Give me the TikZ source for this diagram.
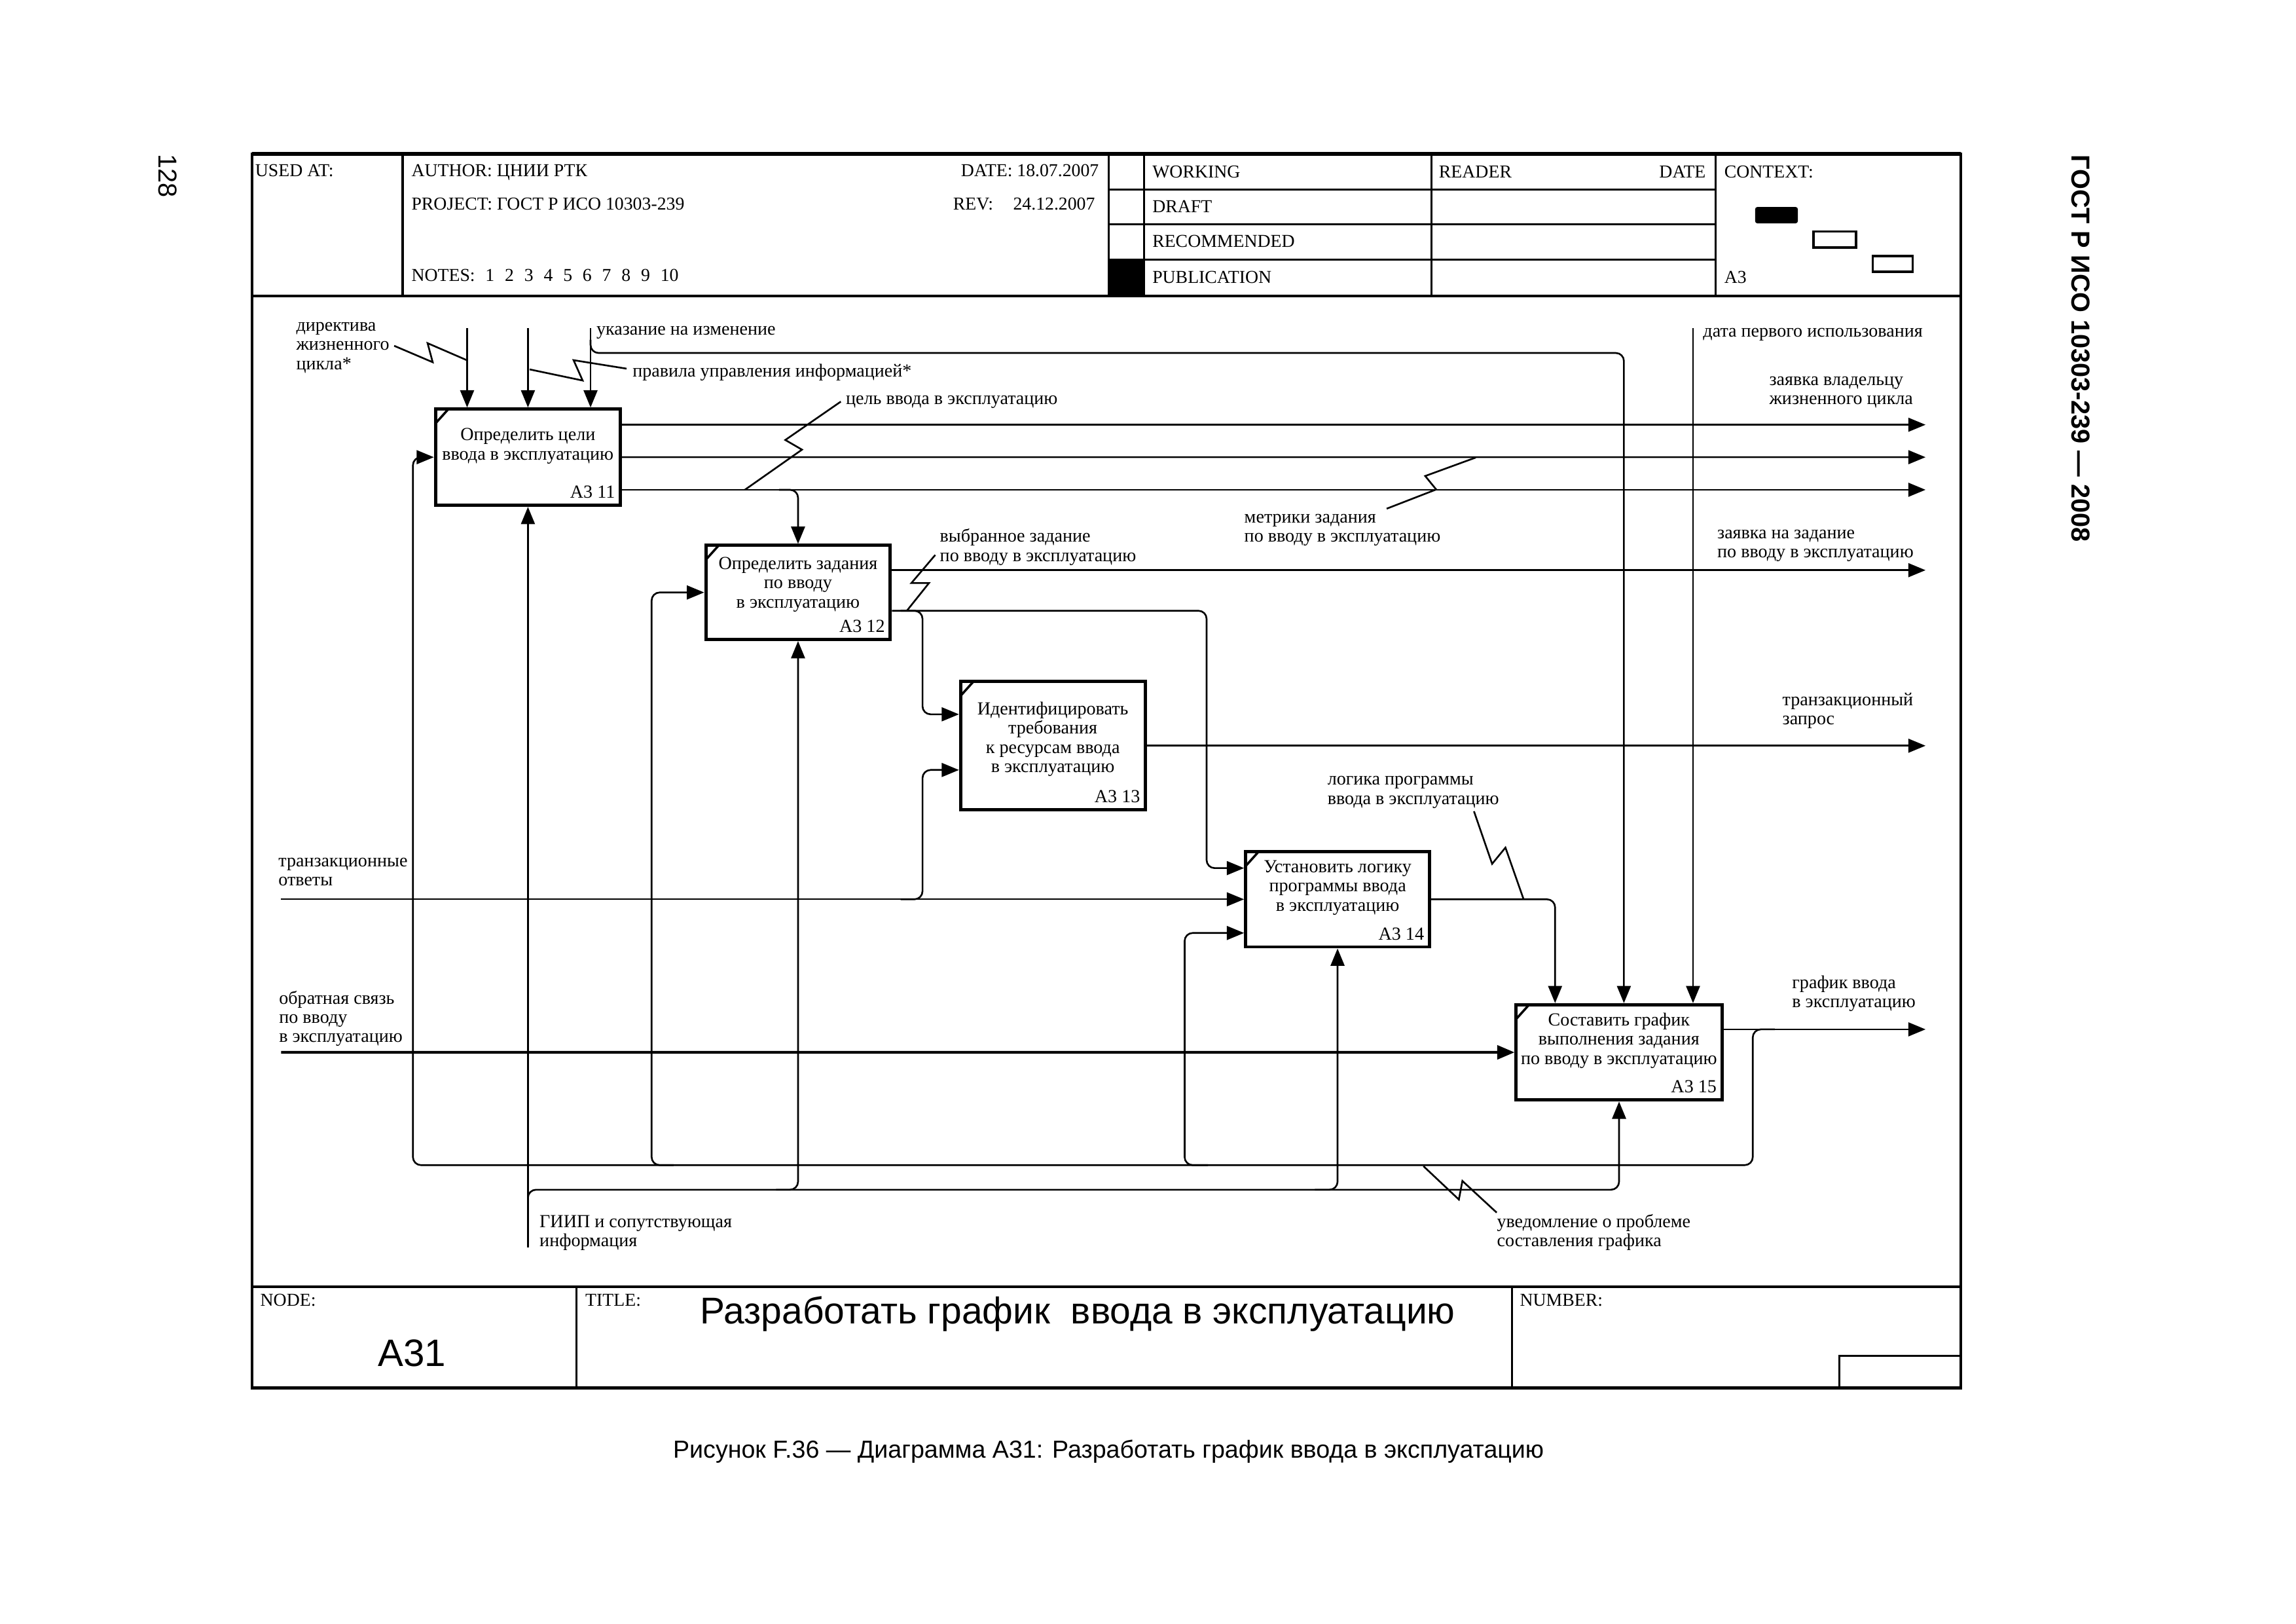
\documentclass[tikz,border=0pt]{standalone}
\usepackage{fontspec}
\setmainfont{Liberation Serif}
\newfontfamily\sansf{Liberation Sans}
\usetikzlibrary{arrows.meta,fit}
\newcommand\lb[1]{\begin{tabular}[t]{@{}l@{}}#1\end{tabular}}
\newcommand\cb[1]{\begin{tabular}[t]{@{}c@{}}#1\end{tabular}}
\newcommand\lblfont{\fontsize{8}{8.35}\selectfont}
\newcommand\hdrfont{\fontsize{7.9}{9}\selectfont}
\begin{document}
\begin{tikzpicture}[x=0.022366cm, y=-0.022366cm,
  box/.style={draw, line width=1.4pt, inner sep=0pt},
  arr/.style={line width=0.75pt, rounded corners=3.5pt, -{Triangle[length=7.5pt,width=6pt]}},
  sq/.style={line width=0.75pt, line join=miter},
  hl/.style={line width=0.9pt},
  lab/.style={inner sep=0pt, anchor=base west, font=\lblfont},
  btxt/.style={inner sep=0pt, anchor=base, font=\lblfont},
  num/.style={inner sep=0pt, anchor=base east, font=\lblfont},
  hdr/.style={inner sep=0pt, anchor=base west, font=\hdrfont},
  cornermark/.style={line width=1pt}]
\fill[white] (0,0) rectangle (1568,1108.4);
\useasboundingbox (0,0) rectangle (1568,1108.4);

% ---------- frame ----------
\draw[line width=1.2pt] (172,105) rectangle (1339,947.6);
\draw[line width=1.8pt] (172,105) -- (1339,105);
\draw[line width=1pt] (172,202) -- (1339,202);
\draw[hl] (275,105) -- (275,202);
\draw[hl] (757,105) -- (757,202);
\draw[hl] (781.4,105) -- (781.4,202);
\draw[hl] (977.4,105) -- (977.4,202);
\draw[hl] (1171.6,105) -- (1171.6,202);
\draw[hl] (757,129.3) -- (1171.6,129.3);
\draw[hl] (757,153.3) -- (1171.6,153.3);
\draw[hl] (757,177.3) -- (1171.6,177.3);
\fill (757,177.3) rectangle (781.4,202);
\fill[rounded corners=1pt] (1198.6,141.3) rectangle (1227.8,152.5);
\draw[line width=1pt] (1238.4,158) rectangle (1267.6,168.9);
\draw[line width=1pt] (1279,174.8) rectangle (1306.3,185.6);
\draw[line width=1.3pt] (172,878.6) -- (1339,878.6);
\draw[hl] (393.5,878.6) -- (393.5,947.6);
\draw[hl] (1032.4,878.6) -- (1032.4,947.6);
\draw[hl] (1256,947.6) -- (1256,925.8) -- (1339,925.8);

% ---------- header texts ----------
\node[hdr] (usedat) at (174,120.5) {USED AT:};
\node[hdr] (author) at (280.7,120.5) {AUTHOR: ЦНИИ РТК};
\node[hdr, anchor=base east] (date) at (750.7,120.5) {DATE: 18.07.2007};
\node[hdr] (project) at (280.7,143.5) {PROJECT: ГОСТ Р ИСО 10303-239};
\node[hdr] (rev) at (650.6,143.5) {REV:};
\node[hdr] (revd) at (691.6,143.5) {24.12.2007};
\node[hdr] (notes) at (280.7,192) {NOTES:\hspace{4.5pt}1\hspace{4.5pt}2\hspace{4.5pt}3\hspace{4.5pt}4\hspace{4.5pt}5\hspace{4.5pt}6\hspace{4.5pt}7\hspace{4.5pt}8\hspace{4.5pt}9\hspace{4.5pt}10};
\node[hdr] (working) at (786.7,121.2) {WORKING};
\node[hdr] (draft) at (786.7,145) {DRAFT};
\node[hdr] (rec) at (786.7,168.9) {RECOMMENDED};
\node[hdr] (pub) at (786.7,193.5) {PUBLICATION};
\node[hdr] (reader) at (982.4,121.2) {READER};
\node[hdr, anchor=base east] (rdate) at (1165.2,121.2) {DATE};
\node[hdr] (context) at (1177.3,121.2) {CONTEXT:};
\node[hdr] (ctxa3) at (1177.3,193.5) {A3};

% ---------- footer texts ----------
\node[hdr] (nodel) at (177.5,891.7) {NODE:};
\node[hdr] (titlel) at (399.5,891.7) {TITLE:};
\node[hdr] (numl) at (1037.7,891.7) {NUMBER:};
\node[inner sep=0pt, anchor=base, font=\sansf\fontsize{16.6}{18}\selectfont] (nodeid) at (281.3,933) {A31};
\node[inner sep=0pt, anchor=base, font=\sansf\fontsize{16.2}{18}\selectfont] (title) at (736,904) {Разработать график\ \ ввода в эксплуатацию};
\node[inner sep=0pt, anchor=base, font=\sansf\fontsize{10.7}{12}\selectfont] (caption) at (757,995.6) {Рисунок F.36 — Диаграмма A31: Разработать график ввода в эксплуатацию};
\node[inner sep=0pt, rotate=-90, font=\sansf\fontsize{11.3}{12}\selectfont] (page) at (114.4,120) {128};
\node[inner sep=0pt, rotate=-90, font=\sansf\bfseries\fontsize{11.3}{12}\selectfont] (gost) at (1421,238) {ГОСТ Р ИСО 10303-239 — 2008};

% ---------- boxes ----------
\node[box, fit={(297.4,279.3) (423.7,345)}] (b1) {};
\node[box, fit={(482,372.4) (608,436.6)}] (b2) {};
\node[box, fit={(656,465.3) (782.3,553)}] (b3) {};
\node[box, fit={(850.7,581.5) (976.2,646.5)}] (b4) {};
\node[box, fit={(1035.4,686) (1176,751)}] (b5) {};
\foreach \b in {b1,b2,b3,b4,b5}
  \draw[cornermark] ([shift={(1,11)}]\b.north west) -- ([shift={(10,1)}]\b.north west);

\node[btxt] (t1) at (360.5,300.8) {\cb{Определить цели\\ввода в эксплуатацию}};
\node[btxt] (t2) at (545,388.7) {\cb{Определить задания\\по вводу\\в эксплуатацию}};
\node[btxt] (t3) at (719,488) {\cb{Идентифицировать\\требования\\к ресурсам ввода\\в эксплуатацию}};
\node[btxt] (t4) at (913.5,595.8) {\cb{Установить логику\\программы ввода\\в эксплуатацию}};
\node[btxt] (t5) at (1105.6,700.3) {\cb{Составить график\\выполнения задания\\по вводу в эксплуатацию}};
\node[num] (n1) at ([shift={(-4.5,-6)}]b1.south east) {A3 11};
\node[num] (n2) at ([shift={(-4.5,-6)}]b2.south east) {A3 12};
\node[num] (n3) at ([shift={(-4.5,-6)}]b3.south east) {A3 13};
\node[num] (n4) at ([shift={(-4.5,-6)}]b4.south east) {A3 14};
\node[num] (n5) at ([shift={(-4.5,-6)}]b5.south east) {A3 15};

% ---------- labels ----------
\node[lab] (l1) at (202,226) {\lb{директива\\жизненного\\цикла*}};
\node[lab] (l2) at (407,228.5) {указание на изменение};
\node[lab] (l3) at (431.7,257.4) {правила управления информацией*};
\node[lab] (l4) at (577.4,276.2) {цель ввода в эксплуатацию};
\node[lab] (l5) at (1162.8,230) {дата первого использования};
\node[lab] (l6) at (1208,263.1) {\lb{заявка владельцу\\жизненного цикла}};
\node[lab] (l7) at (849.5,357) {\lb{метрики задания\\по вводу в эксплуатацию}};
\node[lab] (l8) at (641.6,370.1) {\lb{выбранное задание\\по вводу в эксплуатацию}};
\node[lab] (l9) at (1172.5,367.8) {\lb{заявка на задание\\по вводу в эксплуатацию}};
\node[lab] (l10) at (1217,481.7) {\lb{транзакционный\\запрос}};
\node[lab] (l11) at (906.3,536) {\lb{логика программы\\ввода в эксплуатацию}};
\node[lab] (l12) at (189.9,591.8) {\lb{транзакционные\\ответы}};
\node[lab] (l13) at (190.3,685.5) {\lb{обратная связь\\по вводу\\в эксплуатацию}};
\node[lab] (l14) at (1223.6,674.8) {\lb{график ввода\\в эксплуатацию}};
\node[lab] (l15) at (368.2,838.1) {\lb{ГИИП и сопутствующая\\информация}};
\node[lab] (l16) at (1022,838.1) {\lb{уведомление о проблеме\\составления графика}};

% ---------- coordinates ----------
\coordinate (c1) at (319,224);
\coordinate (c2) at (360.55,224);
\coordinate (c3) at (403.3,224);
\coordinate (c3b) at (403.3,232);
\coordinate (c5) at (1109,241);
\coordinate (c5a) at (403.3,241);
\coordinate (c4) at (1156.2,224);
\coordinate (o11) at (1315,290);
\coordinate (o12) at (1315,312.15);
\coordinate (o13) at (1315,334.4);
\coordinate (br1) at (532,334.4);
\coordinate (m1) at (360.55,851.7);
\coordinate (m1b) at (360.55,825);
\coordinate (mrow) at (360.55,812.3);
\coordinate (m2a) at (530,812.3);
\coordinate (m4a) at (898,812.3);
\coordinate (o5) at (1315,702.8);
\coordinate (f0) at (1212,702.8);
\coordinate (f1) at (1197,795.5);
\coordinate (fl) at (282,795.5);
\coordinate (f2) at (460,795.5);
\coordinate (f2c) at (445,795.5);
\coordinate (f4) at (825,795.5);
\coordinate (f4c) at (809,795.5);
\coordinate (i43) at (0,637);
\coordinate (o21) at (1315,389.3);
\coordinate (o22) at (824,417);
\coordinate (i41) at (0,592.7);
\coordinate (br2) at (615,417);
\coordinate (br2c) at (630,417);
\coordinate (i31) at (0,487.7);
\coordinate (tr) at (192,614);
\coordinate (tra) at (615,614);
\coordinate (trc) at (630,614);
\coordinate (i32) at (0,525.7);
\coordinate (o3) at (1315,509.15);
\coordinate (o4c) at (1062,614);
\coordinate (fb) at (192,718.5);

% ---------- connectors ----------
\draw[arr] (c1) -- (c1 |- b1.north);
\draw[arr] (c2) -- (b1.north);
\draw[arr] (c3) -- (c3 |- b1.north);
\draw[arr] (c3b) -- (c5a) -- (c5) -- (c5 |- b5.north);
\draw[arr] (c4) -- (c4 |- b5.north);
\draw[arr] (b1.east |- o11) -- (o11);
\draw[arr] (b1.east) -- (o12);
\draw[arr] (b1.east |- o13) -- (o13);
\draw[arr] (br1) -- (b2.north |- br1) -- (b2.north);
\draw[arr] (m1) -- (b1.south);
\draw[arr] (m1b) -- (mrow) -- (b5.south |- mrow) -- (b5.south);
\draw[arr] (m2a) -- (b2.south |- m2a) -- (b2.south);
\draw[arr] (m4a) -- (b4.south |- m4a) -- (b4.south);
\draw[arr] (b5.east |- o5) -- (o5);
\draw[arr] (f0) -- (f1 |- f0) -- (f1) -- (fl) -- (fl |- b1.west) -- (b1.west);
\draw[arr] (f2) -- (f2c) -- (f2c |- b2.west) -- (b2.west);
\draw[arr] (f4) -- (f4c) -- (f4c |- i43) -- (b4.west |- i43);
\draw[arr] (b2.east |- o21) -- (o21);
\draw[arr] (b2.east |- o22) -- (o22) -- (o22 |- i41) -- (b4.west |- i41);
\draw[arr] (br2) -- (br2c) -- (br2c |- i31) -- (b3.west |- i31);
\draw[arr, line width=0.6pt] (tr) -- (b4.west);
\draw[arr] (tra) -- (trc) -- (trc |- i32) -- (b3.west |- i32);
\draw[arr] (b3.east) -- (o3);
\draw[arr] (b4.east) -- (o4c) -- (o4c |- b5.north);
\draw[arr, line width=1.2pt] (fb) -- (b5.west);

% ---------- squiggles ----------
\draw[sq] (269.2,236.1) -- (295.5,247.3) -- (292,234.3) -- (318.8,245.9);
\draw[sq] (427.9,251.7) -- (391.7,245.9) -- (397.9,259.8) -- (361.7,252.2);
\draw[sq] (574.2,274.2) -- (536.3,300.4) -- (547.7,307) -- (508.7,334.4);
\draw[sq] (1007.8,312.4) -- (973.3,325) -- (980.8,334.2) -- (947,347.3);
\draw[sq] (638.7,378.9) -- (622.4,398.1) -- (634.4,398.1) -- (619.3,417);
\draw[sq] (1006.6,553.9) -- (1019,589.8) -- (1028.1,578.7) -- (1040.5,614);
\draw[sq] (972.1,796.2) -- (996.3,819) -- (998.7,806.3) -- (1022.1,827.9);
\end{tikzpicture}
\end{document}
